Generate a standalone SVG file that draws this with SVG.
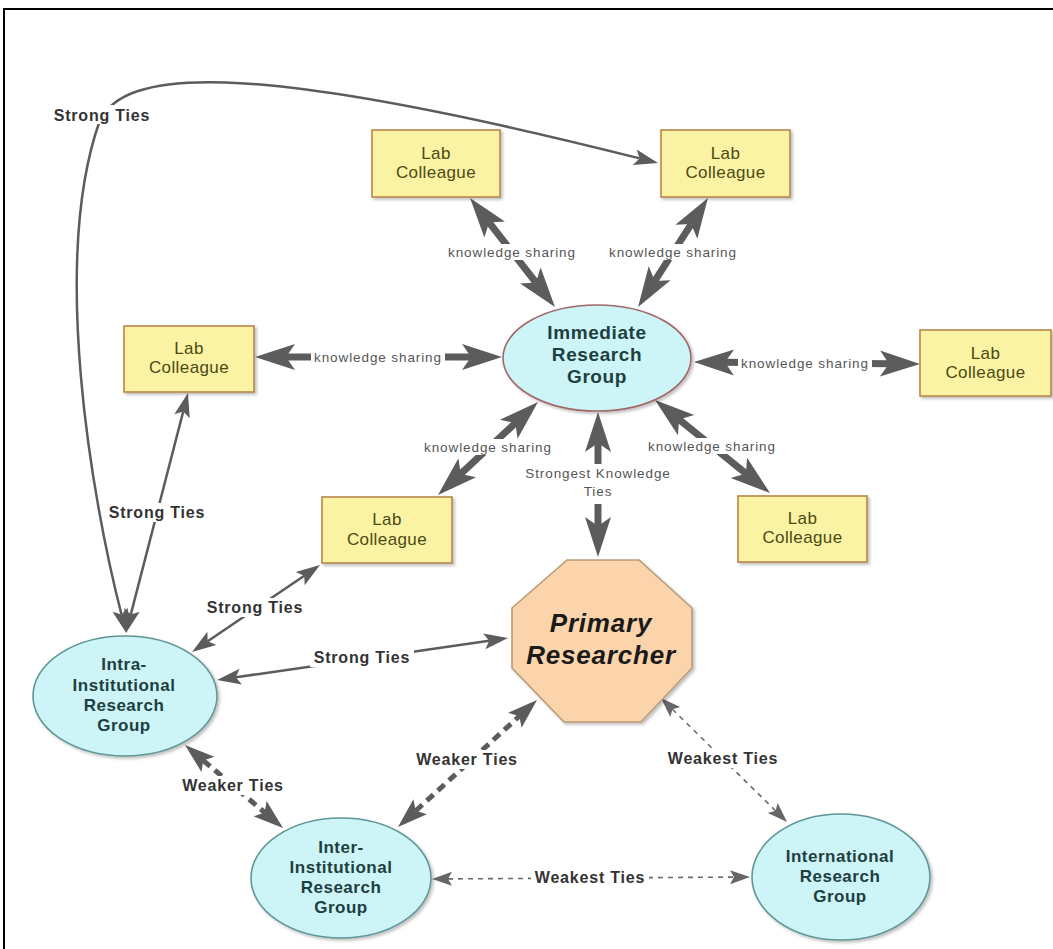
<svg xmlns="http://www.w3.org/2000/svg" width="1053" height="949" viewBox="0 0 1053 949">
<style>
.lab rect{fill:#fbf3a4;stroke:#b8864b;stroke-width:1.6}
.lab text{font-family:"Liberation Sans",Arial,sans-serif;font-size:17px;letter-spacing:0.4px;fill:#4b4a14;text-anchor:middle}
.grp ellipse{fill:#cdf4f6;stroke:#5f9696;stroke-width:1.6}
.grp text{font-family:"Liberation Sans",Arial,sans-serif;font-weight:bold;font-size:17px;letter-spacing:0.5px;fill:#1d3f40;text-anchor:middle}
.ks{stroke:#5c5c5c;stroke-width:7;fill:none}
.st{stroke:#5c5c5c;stroke-width:2.5;fill:none}
.wk{stroke:#5c5c5c;stroke-width:5;fill:none;stroke-dasharray:9 6}
.wt{stroke:#6a6a6a;stroke-width:1.6;fill:none;stroke-dasharray:5 5}
.bg{fill:#ffffff}
.kl{font-family:"Liberation Sans",Arial,sans-serif;font-size:13.5px;letter-spacing:0.9px;fill:#555555;text-anchor:middle}
.tl{font-family:"Liberation Sans",Arial,sans-serif;font-weight:bold;font-size:16px;letter-spacing:0.8px;fill:#333333;text-anchor:middle}
</style>
<defs>
<marker id="mk" markerUnits="userSpaceOnUse" markerWidth="40" markerHeight="26" refX="9" refY="13" orient="auto-start-reverse" overflow="visible"><path d="M0,0 L40,13 L0,26 L9,13 Z" fill="#5c5c5c"/></marker>
<marker id="ms" markerUnits="userSpaceOnUse" markerWidth="24" markerHeight="16" refX="5" refY="8" orient="auto-start-reverse" overflow="visible"><path d="M0,0 L24,8 L0,16 L5,8 Z" fill="#5c5c5c"/></marker>
<marker id="mw" markerUnits="userSpaceOnUse" markerWidth="30" markerHeight="20" refX="6" refY="10" orient="auto-start-reverse" overflow="visible"><path d="M0,0 L30,10 L0,20 L6,10 Z" fill="#5c5c5c"/></marker>
<marker id="mt" markerUnits="userSpaceOnUse" markerWidth="20" markerHeight="14" refX="4" refY="7" orient="auto-start-reverse" overflow="visible"><path d="M0,0 L20,7 L0,14 L4,7 Z" fill="#666666"/></marker>
<filter id="sh" x="-10%" y="-10%" width="130%" height="130%"><feDropShadow dx="2" dy="2" stdDeviation="1.5" flood-color="#000" flood-opacity="0.25"/></filter>
</defs>
<rect width="1053" height="949" fill="#ffffff"/>
<path d="M4,949 V9 H1053" fill="none" stroke="#000" stroke-width="2"/>

<g id="connectors">
<path class="st" d="M121.5,614.5 C92,500 50,260 100,120 C125,72 230,55 639.6,158.4" marker-start="url(#ms)" marker-end="url(#ms)"/>
<line class="ks" x1="489.1" y1="222.5" x2="535.9" y2="282.5" marker-start="url(#mk)" marker-end="url(#mk)"/>
<line class="ks" x1="691.2" y1="224.1" x2="654.8" y2="280.9" marker-start="url(#mk)" marker-end="url(#mk)"/>
<line class="ks" x1="286" y1="357" x2="471" y2="357" marker-start="url(#mk)" marker-end="url(#mk)"/>
<line class="ks" x1="725" y1="362.3" x2="889" y2="363.7" marker-start="url(#mk)" marker-end="url(#mk)"/>
<line class="ks" x1="460.7" y1="473.9" x2="515.3" y2="423.1" marker-start="url(#mk)" marker-end="url(#mk)"/>
<line class="ks" x1="679.1" y1="419.5" x2="745.9" y2="473.5" marker-start="url(#mk)" marker-end="url(#mk)"/>
<line class="ks" x1="598" y1="443" x2="598" y2="526" marker-start="url(#mk)" marker-end="url(#mk)"/>
<line class="st" x1="183.25" y1="411.4" x2="130.75" y2="614.6" marker-start="url(#ms)" marker-end="url(#ms)"/>
<line class="st" x1="304.3" y1="575.7" x2="207.7" y2="641.3" marker-start="url(#ms)" marker-end="url(#ms)"/>
<line class="st" x1="235.8" y1="677.3" x2="489.2" y2="640.7" marker-start="url(#ms)" marker-end="url(#ms)"/>
<line class="wk" x1="203.3" y1="760.5" x2="264.7" y2="812.5" marker-start="url(#mw)" marker-end="url(#mw)"/>
<line class="wk" x1="415.7" y1="810.8" x2="519.3" y2="716.2" marker-start="url(#mw)" marker-end="url(#mw)"/>
<line class="wt" x1="672.4" y1="709.2" x2="775.6" y2="810.8" marker-start="url(#mt)" marker-end="url(#mt)"/>
<line class="wt" x1="448" y1="878.9" x2="734" y2="877.1" marker-start="url(#mt)" marker-end="url(#mt)"/>

<rect class="bg" x="50" y="105" width="106" height="19"/>
<text class="tl" x="102" y="121">Strong Ties</text>
<rect class="bg" x="445" y="244" width="134" height="16"/>
<text class="kl" x="512" y="256.5">knowledge sharing</text>
<rect class="bg" x="606" y="244" width="134" height="16"/>
<text class="kl" x="673" y="256.5">knowledge sharing</text>
<rect class="bg" x="311" y="349" width="134" height="16"/>
<text class="kl" x="378" y="361.5">knowledge sharing</text>
<rect class="bg" x="738" y="355" width="134" height="16"/>
<text class="kl" x="805" y="367.5">knowledge sharing</text>
<rect class="bg" x="421" y="439" width="134" height="16"/>
<text class="kl" x="488" y="451.5">knowledge sharing</text>
<rect class="bg" x="645" y="438" width="134" height="16"/>
<text class="kl" x="712" y="450.5">knowledge sharing</text>
<rect class="bg" x="524" y="464" width="148" height="40"/>
<text class="kl" x="598" y="478">Strongest Knowledge</text>
<text class="kl" x="598" y="496">Ties</text>
<rect class="bg" x="105" y="503" width="104" height="19"/>
<text class="tl" x="157" y="518">Strong Ties</text>
<rect class="bg" x="203" y="598" width="104" height="19"/>
<text class="tl" x="255" y="613">Strong Ties</text>
<rect class="bg" x="310" y="648" width="104" height="19"/>
<text class="tl" x="362" y="663">Strong Ties</text>
<rect class="bg" x="178" y="776" width="110" height="19"/>
<text class="tl" x="233" y="791">Weaker Ties</text>
<rect class="bg" x="412" y="750" width="110" height="19"/>
<text class="tl" x="467" y="765">Weaker Ties</text>
<rect class="bg" x="664" y="749" width="118" height="19"/>
<text class="tl" x="723" y="764">Weakest Ties</text>
<rect class="bg" x="531" y="868" width="118" height="19"/>
<text class="tl" x="590" y="883">Weakest Ties</text>
</g>

<g id="lab-a" class="lab"><rect x="372" y="130" width="128" height="67" filter="url(#sh)"/><text x="436" y="158.5">Lab</text><text x="436" y="177.5">Colleague</text></g>
<g id="lab-b" class="lab"><rect x="661" y="130" width="129" height="67" filter="url(#sh)"/><text x="725.5" y="158.5">Lab</text><text x="725.5" y="177.5">Colleague</text></g>
<g id="lab-c" class="lab"><rect x="124" y="326" width="130" height="66" filter="url(#sh)"/><text x="189" y="354">Lab</text><text x="189" y="373">Colleague</text></g>
<g id="lab-d" class="lab"><rect x="920" y="330" width="131" height="66" filter="url(#sh)"/><text x="985.5" y="358.5">Lab</text><text x="985.5" y="377.5">Colleague</text></g>
<g id="lab-e" class="lab"><rect x="322" y="497" width="130" height="66" filter="url(#sh)"/><text x="387" y="525">Lab</text><text x="387" y="544.5">Colleague</text></g>
<g id="lab-f" class="lab"><rect x="738" y="496" width="129" height="66" filter="url(#sh)"/><text x="802.5" y="523.5">Lab</text><text x="802.5" y="543">Colleague</text></g>

<g id="immediate" class="grp"><ellipse cx="597" cy="358" rx="94" ry="53" style="stroke:#a06868" filter="url(#sh)"/><text x="597" y="339" style="font-size:19px;letter-spacing:0.6px">Immediate</text><text x="597" y="361" style="font-size:19px;letter-spacing:0.6px">Research</text><text x="597" y="383" style="font-size:19px;letter-spacing:0.6px">Group</text></g>

<g id="primary"><polygon points="567,560 639,560 692,608 692,668 641,722 564,722 512,668 512,608" fill="#fcd4ac" stroke="#b89a78" stroke-width="1.6" filter="url(#sh)"/><text x="601" y="632" style="font-family:'Liberation Sans',Arial,sans-serif;font-weight:bold;font-style:italic;font-size:26px;letter-spacing:0.8px;fill:#1a1a1a;text-anchor:middle">Primary</text><text x="601" y="664" style="font-family:'Liberation Sans',Arial,sans-serif;font-weight:bold;font-style:italic;font-size:26px;letter-spacing:0.8px;fill:#1a1a1a;text-anchor:middle">Researcher</text></g>

<g id="intra" class="grp"><ellipse cx="125" cy="696" rx="92" ry="60" filter="url(#sh)"/><text x="124" y="670">Intra-</text><text x="124" y="691">Institutional</text><text x="124" y="711">Research</text><text x="124" y="731">Group</text></g>

<g id="inter" class="grp"><ellipse cx="341" cy="878" rx="90" ry="60" filter="url(#sh)"/><text x="341" y="853">Inter-</text><text x="341" y="873">Institutional</text><text x="341" y="893">Research</text><text x="341" y="913">Group</text></g>

<g id="international" class="grp"><ellipse cx="841" cy="877" rx="89" ry="63" filter="url(#sh)"/><text x="840" y="862">International</text><text x="840" y="882">Research</text><text x="840" y="902">Group</text></g>
</svg>
